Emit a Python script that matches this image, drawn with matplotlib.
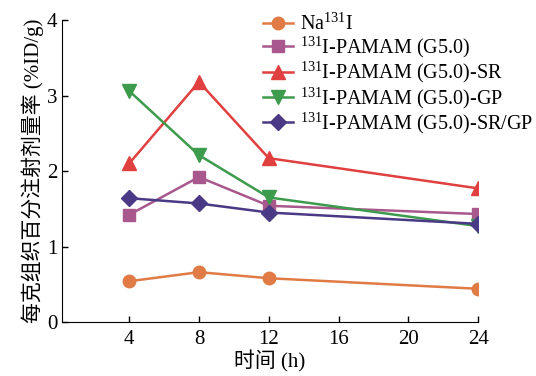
import matplotlib
matplotlib.use('Agg')
import matplotlib.pyplot as plt

plt.rcParams['font.family'] = ['Liberation Serif', 'Noto Sans CJK SC']
plt.rcParams['mathtext.fontset'] = 'custom'
plt.rcParams['mathtext.rm'] = 'Liberation Serif'
plt.rcParams['mathtext.it'] = 'Liberation Serif:italic'

hours = [4, 8, 12, 24]
na131i = [0.54, 0.66, 0.58, 0.44]
pamam = [1.42, 1.92, 1.54, 1.43]
pamam_sr = [2.10, 3.18, 2.17, 1.77]
pamam_gp = [3.06, 2.21, 1.65, 1.27]
pamam_srgp = [1.64, 1.57, 1.45, 1.30]

labels = [r'Na$^{\mathrm{131}}$I',
          r'$^{\mathrm{131}}$I-PAMAM (G5.0)',
          r'$^{\mathrm{131}}$I-PAMAM (G5.0)-SR',
          r'$^{\mathrm{131}}$I-PAMAM (G5.0)-GP',
          r'$^{\mathrm{131}}$I-PAMAM (G5.0)-SR/GP']
colors = ['#E07B45', '#A8588C', '#E0403F', '#3D9B4D', '#4A3984']
markers = ['o', 's', '^', 'v', 'D']
sizes = [9, 9, 10, 10, 8]
series = [na131i, pamam, pamam_sr, pamam_gp, pamam_srgp]

fig = plt.figure(figsize=(5.36, 3.76), dpi=100)
ax = fig.add_axes([0.1157, 0.1436, 0.7763, 0.8032])

for ys, c, m, s, lab in zip(series, colors, markers, sizes, labels):
    ax.plot(hours, ys, color=c, marker=m, markersize=s, lw=1.8, label=lab)

ax.set_xlim(0.15, 24)
ax.set_ylim(0, 4)
ax.set_xticks([4, 8, 12, 16, 20, 24])
ax.set_yticks([0, 1, 2, 3, 4])
ax.tick_params(direction='in', labelsize=15, length=4, width=1)
ax.tick_params(axis='x', pad=6)
ax.spines['top'].set_visible(False)
ax.spines['right'].set_visible(False)
ax.set_xlabel('时间 (h)', fontsize=15, labelpad=1)
ax.set_ylabel('每克组织百分注射剂量率 (%ID/g)', fontsize=15, labelpad=2)

fig.legend(loc='upper left', bbox_to_anchor=(0.456, 1.012), frameon=False,
           fontsize=14.5, handlelength=1.5, labelspacing=0.0, handletextpad=0.35,
           borderpad=0.4)

fig.savefig('out.png', dpi=100)
